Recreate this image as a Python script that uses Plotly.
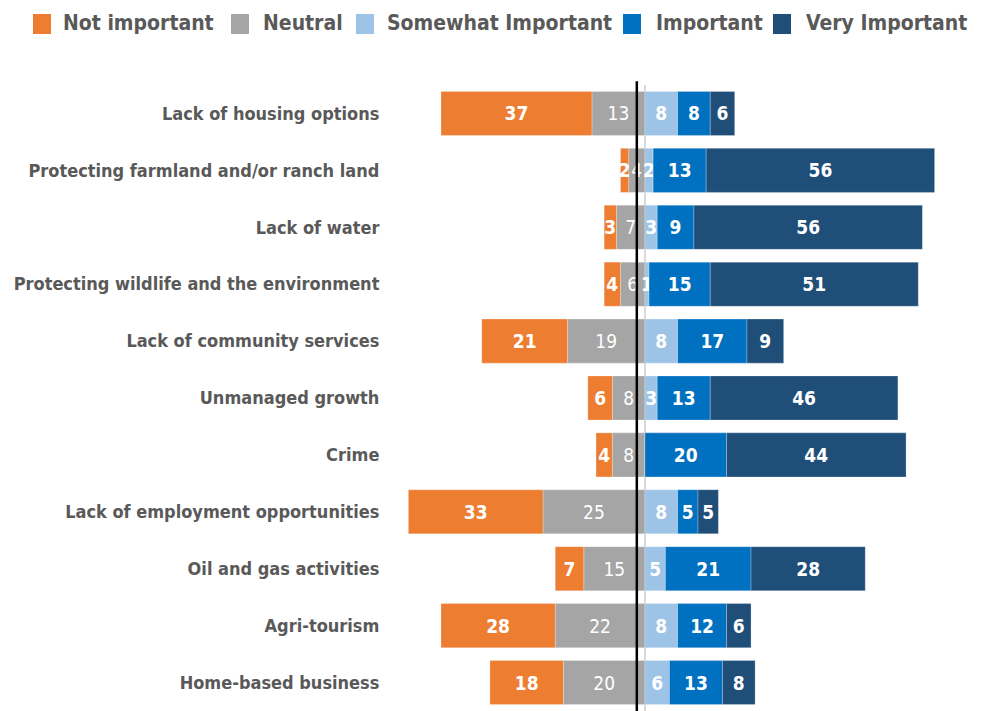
import plotly.graph_objects as go

categories = [
    "Lack of housing options",
    "Protecting farmland and/or ranch land",
    "Lack of water",
    "Protecting wildlife and the environment",
    "Lack of community services",
    "Unmanaged growth",
    "Crime",
    "Lack of employment opportunities",
    "Oil and gas activities",
    "Agri-tourism",
    "Home-based business",
]
not_important = [37, 2, 3, 4, 21, 6, 4, 33, 7, 28, 18]
neutral = [13, 4, 7, 6, 19, 8, 8, 25, 15, 22, 20]
somewhat = [8, 2, 3, 1, 8, 3, 0, 8, 5, 8, 6]
important = [8, 13, 9, 15, 17, 13, 20, 5, 21, 12, 13]
very_important = [6, 56, 56, 51, 9, 46, 44, 5, 28, 6, 8]

legend_names = ["Not important", "Neutral", "Somewhat Important", "Important", "Very Important"]
colors = ["#ED7D31", "#A5A5A5", "#9DC3E6", "#0070C0", "#1F4E79"]

FONT = "DejaVu Sans Condensed, Liberation Sans Narrow, Arial Narrow, sans-serif"
TXT = "#595959"

# the page body adds an 8px margin, so the figure is drawn 8px in from the window edge
PAGE = 8
W, H = 984 - PAGE, 711 - PAGE
ML, MR, MT, MB = 382, 9, 77, 0
PW, PH = W - ML - MR, H - MT - MB


def px2paper_x(page_px):
    return (page_px - PAGE - ML) / PW


def px2paper_y(page_py):
    return (H - MB - (page_py - PAGE)) / PH


def labels(vals):
    return [str(v) if v else "" for v in vals]


series = [
    # (name index, values, sign, bold) -- neutral first so it sits next to zero
    (1, neutral, -1, False),
    (0, not_important, -1, True),
    (2, somewhat, 1, True),
    (3, important, 1, True),
    (4, very_important, 1, True),
]

fig = go.Figure()
for idx, vals, sign, bold in series:
    fig.add_trace(go.Bar(
        y=categories,
        x=[sign * v for v in vals],
        orientation="h",
        name=legend_names[idx],
        marker=dict(color=colors[idx], line=dict(color="rgba(255,255,255,0.5)", width=0.5)),
        text=labels(vals),
        textposition="inside",
        insidetextanchor="middle",
        textangle=0,
        constraintext="none",
        textfont=dict(family=FONT, size=19, color="white",
                      weight="bold" if bold else "normal"),
        hoverinfo="name+text",
        showlegend=False,
    ))

# light zero line behind bars, black reference line in front
fig.add_shape(type="line", xref="x", yref="paper", x0=0, x1=0, y0=0, y1=1.0,
              layer="below", line=dict(color="#D9D9D9", width=2))
fig.add_shape(type="line", xref="x", yref="paper", x0=-2, x1=-2, y0=0, y1=1.006,
              line=dict(color="black", width=2.5))

# custom legend (large square swatches like the original)
swatch_left = [33, 231, 356, 623, 773]
text_left = [62, 262, 386, 655, 805]
for i, name in enumerate(legend_names):
    fig.add_shape(type="rect", xref="paper", yref="paper",
                  x0=px2paper_x(swatch_left[i]), x1=px2paper_x(swatch_left[i] + 18),
                  y0=px2paper_y(34), y1=px2paper_y(14),
                  fillcolor=colors[i], line=dict(width=0))
    fig.add_annotation(xref="paper", yref="paper",
                       x=px2paper_x(text_left[i] - 1), y=px2paper_y(23),
                       xanchor="left", yanchor="middle", showarrow=False,
                       text=name,
                       font=dict(family=FONT, size=21, color=TXT, weight="bold"))

fig.update_layout(
    barmode="relative",
    bargap=0.225,
    width=W, height=H,
    margin=dict(l=ML, r=MR, t=MT, b=MB),
    paper_bgcolor="white",
    plot_bgcolor="white",
    font=dict(family=FONT, color=TXT),
    uniformtext=dict(minsize=19, mode="show"),
    showlegend=False,
    xaxis=dict(range=[-62.5, 80.9], showgrid=False, showticklabels=False,
               zeroline=False, fixedrange=True),
    yaxis=dict(autorange="reversed", showgrid=False,
               ticks="outside", ticklen=6, tickcolor="rgba(0,0,0,0)",
               automargin=False, showline=False,
               tickfont=dict(family=FONT, size=18, color=TXT, weight="bold")),
)

fig.write_html("out.html")
